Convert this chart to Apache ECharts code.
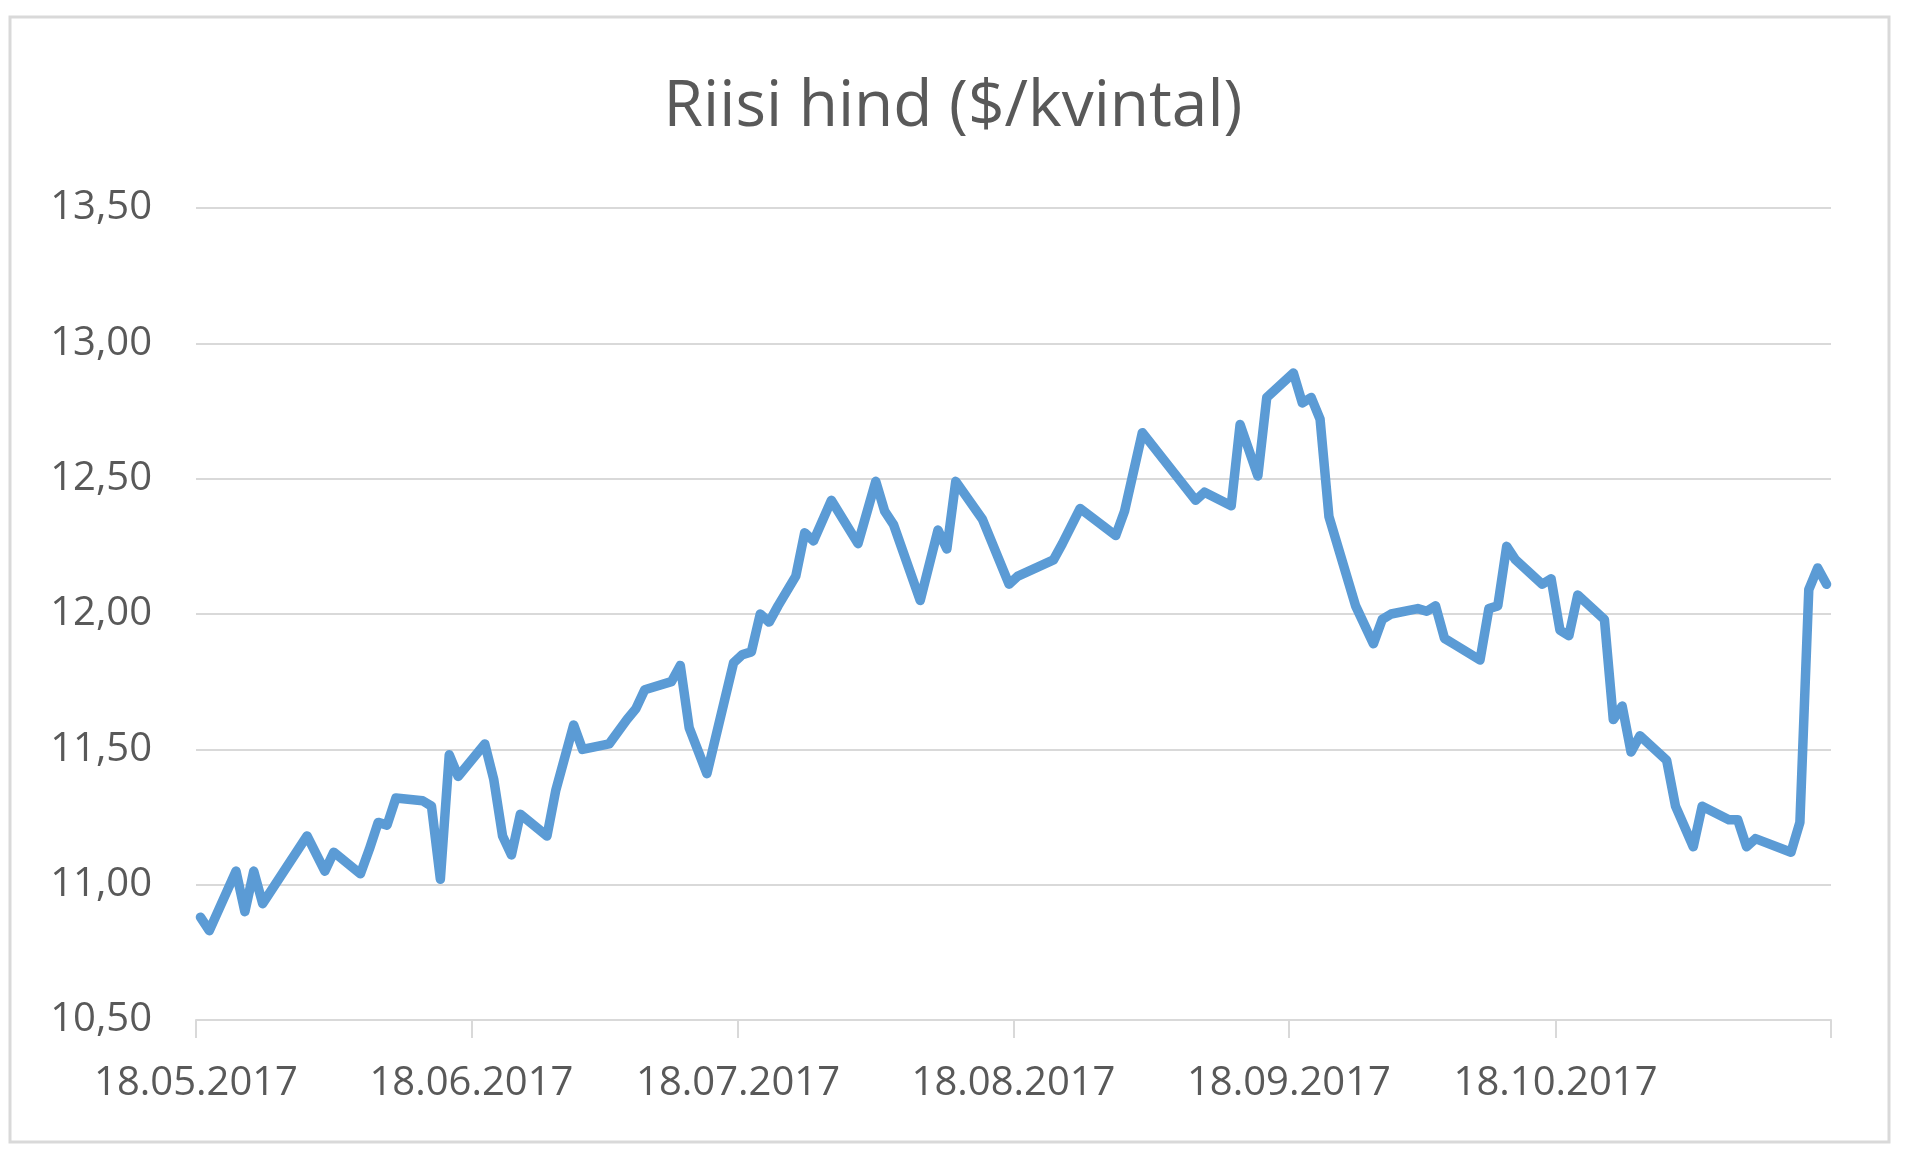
<!DOCTYPE html>
<html>
<head>
<meta charset="utf-8">
<script src="https://cdn.jsdelivr.net/npm/echarts@6/dist/echarts.min.js"></script>
<style>
  html, body { margin: 0; padding: 0; background: #ffffff; }
  #chart { width: 1920px; height: 1171px; }
</style>
</head>
<body>
<div id="chart"></div>
<script>
// ---- data ----
const titleText = 'Riisi hind ($/kvintal)';

const dates = [
  '2017-05-18','2017-05-19','2017-05-22','2017-05-23','2017-05-24','2017-05-25','2017-05-30',
  '2017-06-01','2017-06-02','2017-06-05','2017-06-06','2017-06-07','2017-06-08','2017-06-09',
  '2017-06-12','2017-06-13','2017-06-14','2017-06-15','2017-06-16','2017-06-19','2017-06-20',
  '2017-06-21','2017-06-22','2017-06-23','2017-06-26','2017-06-27','2017-06-29','2017-06-30',
  '2017-07-03','2017-07-05','2017-07-06','2017-07-07','2017-07-10','2017-07-11','2017-07-12',
  '2017-07-14','2017-07-17','2017-07-18','2017-07-19','2017-07-20','2017-07-21','2017-07-22',
  '2017-07-24','2017-07-25','2017-07-26','2017-07-28','2017-07-31',
  '2017-08-02','2017-08-03','2017-08-04','2017-08-07','2017-08-09','2017-08-10','2017-08-11',
  '2017-08-14','2017-08-17','2017-08-18','2017-08-22','2017-08-23','2017-08-25','2017-08-29',
  '2017-08-30',
  '2017-09-01','2017-09-07','2017-09-08','2017-09-11','2017-09-12','2017-09-14','2017-09-15',
  '2017-09-18','2017-09-19','2017-09-20','2017-09-21','2017-09-22','2017-09-25','2017-09-27',
  '2017-09-28','2017-09-29',
  '2017-10-02','2017-10-03','2017-10-04','2017-10-05','2017-10-06','2017-10-09','2017-10-10',
  '2017-10-11','2017-10-12','2017-10-13','2017-10-16','2017-10-17','2017-10-18','2017-10-19',
  '2017-10-20','2017-10-23','2017-10-24','2017-10-25','2017-10-26','2017-10-27','2017-10-30',
  '2017-10-31',
  '2017-11-02','2017-11-03','2017-11-06','2017-11-07','2017-11-08','2017-11-09','2017-11-13',
  '2017-11-14','2017-11-15','2017-11-16','2017-11-17'
];

const prices = [
  10.88,10.83,11.05,10.90,11.05,10.93,11.18,
  11.05,11.12,11.04,11.13,11.23,11.22,11.32,
  11.31,11.29,11.02,11.48,11.40,11.52,11.39,
  11.18,11.11,11.26,11.18,11.35,11.59,11.50,
  11.52,11.61,11.65,11.72,11.75,11.81,11.58,
  11.41,11.82,11.85,11.86,12.00,11.97,12.03,
  12.14,12.30,12.27,12.42,12.26,
  12.49,12.38,12.33,12.05,12.31,12.24,12.49,
  12.35,12.11,12.14,12.20,12.26,12.39,12.29,
  12.38,
  12.67,12.42,12.45,12.40,12.70,12.51,12.80,
  12.89,12.78,12.80,12.72,12.36,12.03,11.89,
  11.98,12.00,
  12.02,12.01,12.03,11.91,11.89,11.83,12.02,
  12.03,12.25,12.20,12.11,12.13,11.94,11.92,
  12.07,11.98,11.61,11.66,11.49,11.55,11.46,
  11.29,
  11.14,11.29,11.24,11.24,11.14,11.17,11.12,
  11.23,12.09,12.17,12.11
];

const axisStart = '2017-05-18';
const axisEnd = '2017-11-18';
const tickDates = ['2017-05-18','2017-06-18','2017-07-18','2017-08-18','2017-09-18','2017-10-18','2017-11-18'];
const labelDates = ['2017-05-18','2017-06-18','2017-07-18','2017-08-18','2017-09-18','2017-10-18'];

const yMin = 10.5, yMax = 13.5, yStep = 0.5;

// ---- build ----
const ts = d => new Date(d + 'T00:00:00').getTime();
const HALF_DAY = 12 * 3600 * 1000; // Excel date axis: points sit mid-day (between tick marks)
const seriesData = dates.map((d, i) => [ts(d) + HALF_DAY, prices[i]]);

function fmtDate(v) {
  const d = new Date(v);
  const dd = String(d.getDate()).padStart(2, '0');
  const mm = String(d.getMonth() + 1).padStart(2, '0');
  return dd + '.' + mm + '.' + d.getFullYear();
}

const chart = echarts.init(document.getElementById('chart'), null, { renderer: 'canvas' });
const textColor = '#595959';
const gridColor = '#d9d9d9';
const font = '"Open Sans", "Noto Sans", sans-serif';

chart.setOption({
  backgroundColor: '#ffffff',
  animation: false,
  title: {
    text: titleText,
    left: 948,
    top: 71,
    textAlign: 'center',
    textStyle: { color: textColor, fontFamily: font, fontSize: 64, fontWeight: 'normal' }
  },
  graphic: [{
    type: 'rect',
    shape: { x: 10, y: 17, width: 1879, height: 1125 },
    style: { fill: 'none', stroke: gridColor, lineWidth: 3 },
    silent: true, z: -1
  }],
  grid: { left: 196, right: 89, top: 208, bottom: 151, containLabel: false },
  xAxis: {
    type: 'value',
    min: ts(axisStart),
    max: ts(axisEnd),
    axisLine: { show: true, lineStyle: { color: gridColor, width: 2 } },
    axisTick: {
      show: true, length: 18, inside: false,
      lineStyle: { color: gridColor, width: 2 },
      customValues: tickDates.map(ts)
    },
    axisLabel: {
      show: true,
      customValues: labelDates.map(ts),
      formatter: v => fmtDate(v),
      color: textColor, fontFamily: font, fontSize: 40, margin: 44,
      hideOverlap: false
    },
    splitLine: { show: false },
    minorTick: { show: false }
  },
  yAxis: {
    type: 'value',
    min: yMin, max: yMax, interval: yStep,
    axisLine: { show: false },
    axisTick: { show: false },
    axisLabel: {
      color: textColor, fontFamily: font, fontSize: 40, margin: 44,
      formatter: v => v.toFixed(2).replace('.', ',')
    },
    splitLine: { show: true, lineStyle: { color: gridColor, width: 2 } }
  },
  series: [{
    type: 'line',
    data: seriesData,
    showSymbol: false,
    symbol: 'none',
    lineStyle: { color: '#5b9bd5', width: 9.5, cap: 'round', join: 'round' },
    itemStyle: { color: '#5b9bd5' }
  }]
});
</script>
</body>
</html>
